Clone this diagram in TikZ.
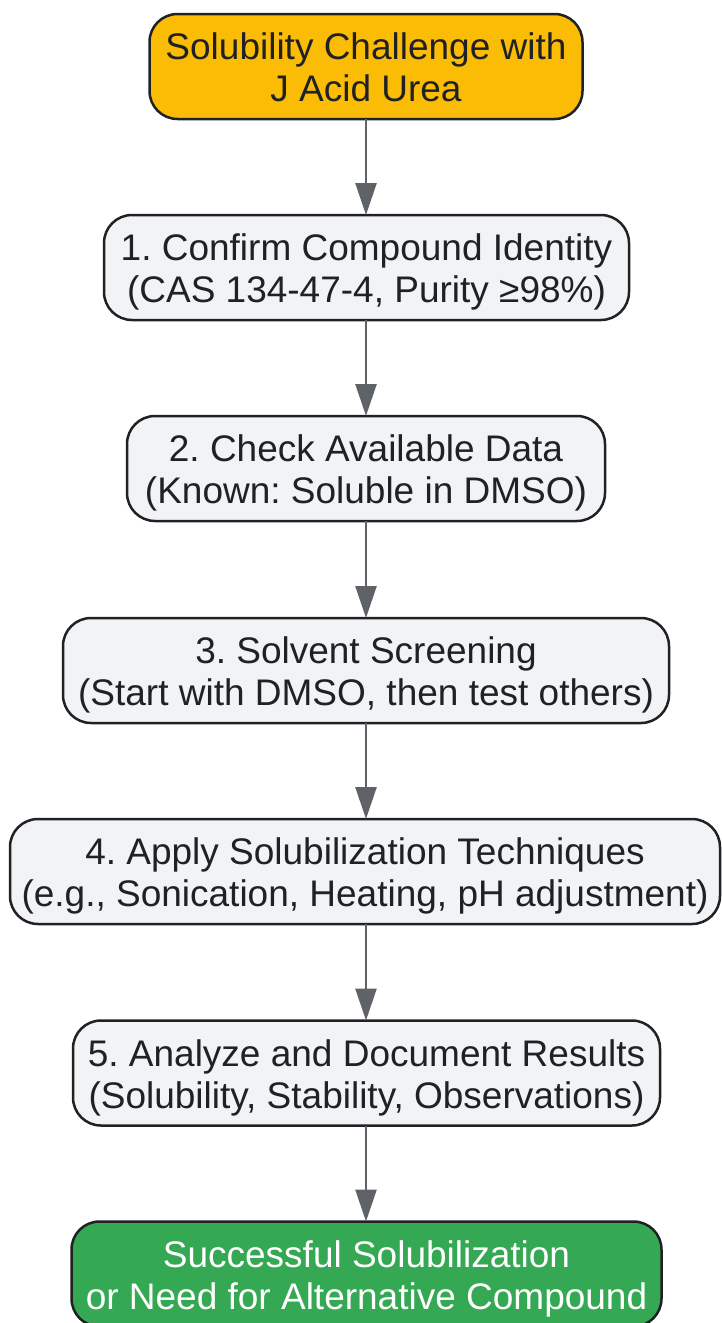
\documentclass[tikz,border=0pt]{standalone}
\usepackage{fontspec}
\setmainfont{Liberation Sans}
\usetikzlibrary{arrows.meta}
\frenchspacing
\definecolor{orangefill}{HTML}{FBBC05}
\definecolor{grayfill}{HTML}{F1F3F4}
\definecolor{greenfill}{HTML}{34A853}
\definecolor{edgecol}{HTML}{202124}
\definecolor{arrowcol}{HTML}{5F6368}
\newcommand{\twolines}[2]{\raisebox{-6pt}[\height][\depth]{\begin{tabular}{@{}c@{}}#1\\#2\end{tabular}}}
\tikzset{
  box/.style={draw=edgecol, line width=2.5pt, rounded corners=28pt, align=center,
    inner sep=0pt, outer sep=0pt, minimum height=105pt, text=edgecol,
    font=\fontsize{37}{42}\selectfont},
  stepbox/.style={box, fill=grayfill},
  startbox/.style={box, fill=orangefill},
  endbox/.style={box, fill=greenfill, text=white},
  arr/.style={draw=arrowcol, line width=2.5pt,
    -{Triangle[width=21pt,length=32pt,fill=arrowcol]}}
}
\begin{document}
\begin{tikzpicture}[x=1pt,y=-1pt]
\useasboundingbox (0,0) rectangle (721,1323);
\node[startbox, minimum width=433pt] (n0) at (366,66.5) {\twolines{Solubility Challenge with}{J Acid Urea}};
\node[stepbox, minimum width=525pt] (n1) at (366.5,267.5) {\twolines{1. Confirm Compound Identity}{(CAS 134-47-4, Purity ≥98\%)}};
\node[stepbox, minimum width=478pt] (n2) at (366,468.5) {\twolines{2. Check Available Data}{(Known: Soluble in DMSO)}};
\node[stepbox, minimum width=606pt] (n3) at (366,670.5) {\twolines{3. Solvent Screening}{(Start with DMSO, then test others)}};
\node[stepbox, minimum width=710pt] (n4) at (365,871.5) {\twolines{4. Apply Solubilization Techniques}{(e.g., Sonication, Heating, pH adjustment)}};
\node[stepbox, minimum width=587pt] (n5) at (366.5,1073) {\twolines{5. Analyze and Document Results}{(Solubility, Stability, Observations)}};
\node[endbox, minimum width=590pt] (n6) at (366.5,1274) {\twolines{Successful Solubilization}{or Need for Alternative Compound}};
\draw[arr] (n0.south) -- (n0.south |- n1.north);
\draw[arr] (n0.south |- n1.south) -- (n0.south |- n2.north);
\draw[arr] (n0.south |- n2.south) -- (n0.south |- n3.north);
\draw[arr] (n0.south |- n3.south) -- (n0.south |- n4.north);
\draw[arr] (n0.south |- n4.south) -- (n0.south |- n5.north);
\draw[arr] (n0.south |- n5.south) -- (n0.south |- n6.north);
\end{tikzpicture}
\end{document}
